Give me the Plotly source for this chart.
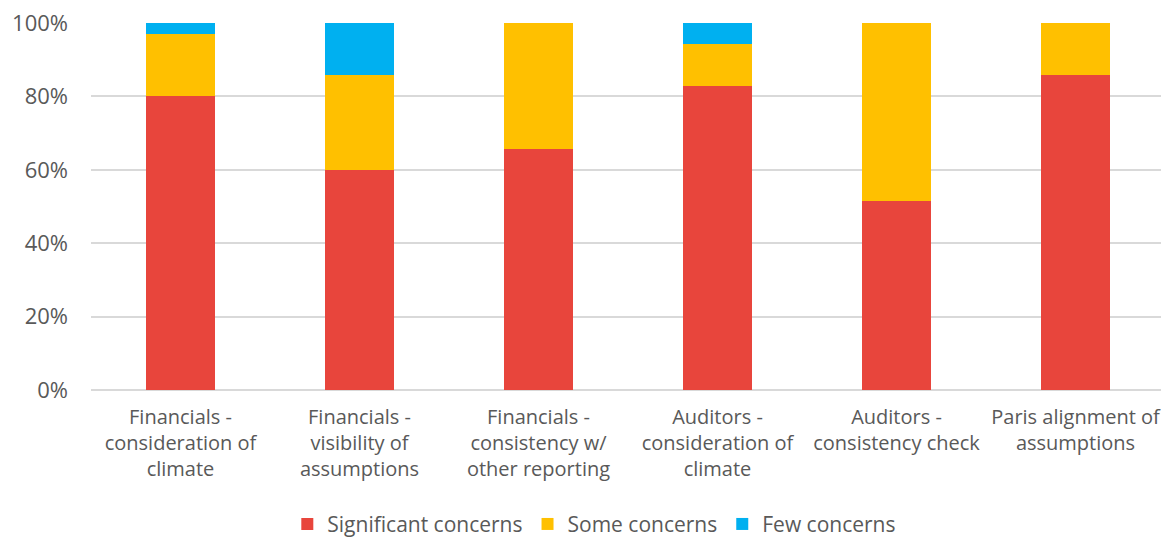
import plotly.graph_objects as go

# Categories and shares (percent of companies assessed)
categories = [
    "Financials -<br>consideration of<br>climate",
    "Financials -<br>visibility of<br>assumptions",
    "Financials -<br>consistency w/<br>other reporting",
    "Auditors -<br>consideration of<br>climate",
    "Auditors -<br>consistency check",
    "Paris alignment of<br>assumptions",
]
significant = [80.0, 60.0, 65.7, 82.9, 51.4, 85.7]
some = [17.1, 25.7, 34.3, 11.4, 48.6, 14.3]
few = [2.9, 14.3, 0.0, 5.7, 0.0, 0.0]
y_ticks = [0, 20, 40, 60, 80, 100]

font_color = "#595959"

fig = go.Figure()
fig.add_trace(go.Bar(x=categories, y=significant, name="Significant concerns",
                     marker=dict(color="#E8453C", line=dict(width=0))))
fig.add_trace(go.Bar(x=categories, y=some, name="Some concerns",
                     marker=dict(color="#FFC000", line=dict(width=0))))
fig.add_trace(go.Bar(x=categories, y=few, name="Few concerns",
                     marker=dict(color="#00B0F0", line=dict(width=0))))

# page body has an 8px margin, so the figure is sized and offset to fit the window
fig.update_layout(
    barmode="stack",
    bargap=0.61,
    width=1161,
    height=529,
    margin=dict(l=83, r=4, t=15, b=147),
    plot_bgcolor="white",
    paper_bgcolor="white",
    font=dict(family="Open Sans, Lato, sans-serif", size=20, color=font_color),
    legend=dict(orientation="h", xref="container", x=0.505, xanchor="center",
                yref="container", y=0.024, yanchor="middle",
                font=dict(size=21), traceorder="normal", itemwidth=30),
    xaxis=dict(showgrid=False, showline=False, ticks="", tickangle=0,
               automargin=False, ticklabelstandoff=13, tickfont=dict(size=20),
               ticklabeloverflow="allow"),
    yaxis=dict(range=[0, 100], tickmode="array", tickvals=y_ticks,
               ticktext=[f"{v}%" for v in y_ticks], tickfont=dict(size=22),
               showgrid=True, gridcolor="#D9D9D9", gridwidth=1.5, zeroline=True,
               zerolinecolor="#D9D9D9", zerolinewidth=1.5, ticks="",
               automargin=False, ticklabelstandoff=22, ticklabeloverflow="allow"),
    hovermode=False,
)

fig.write_html("out.html")
